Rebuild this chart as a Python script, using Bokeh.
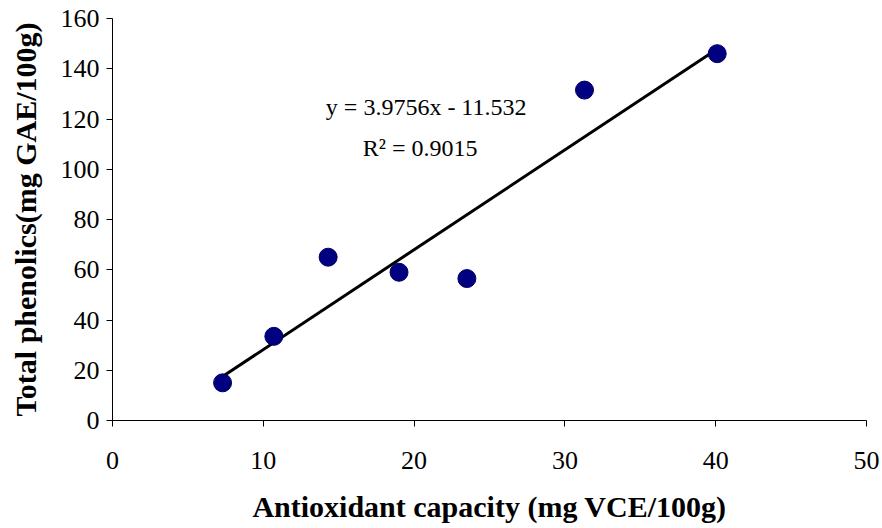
from bokeh.plotting import figure
from bokeh.models import Range1d, Label, FixedTicker
from bokeh.embed import file_html
from bokeh.resources import INLINE
import numpy as np

# data
antioxidant = [7.3, 10.7, 14.3, 19.0, 23.5, 31.3, 40.1]
phenolics = [15.0, 33.5, 65.0, 59.0, 56.5, 131.5, 146.0]
slope = 3.9756
intercept = -11.532
r2 = 0.9015
x_ticks = [0, 10, 20, 30, 40, 50]
y_ticks = [0, 20, 40, 60, 80, 100, 120, 140, 160]

FONT = "Liberation Serif"

p = figure(width=880, height=526, output_backend="svg", toolbar_location=None,
           x_range=Range1d(0, 50), y_range=Range1d(0, 160),
           min_border_left=112, min_border_right=14, min_border_top=18, min_border_bottom=106)
p.outline_line_color = None
p.grid.grid_line_color = None
p.background_fill_color = "white"
p.border_fill_color = "white"

for ax in (p.xaxis, p.yaxis):
    ax.axis_line_color = "black"
    ax.axis_line_width = 1
    ax.major_tick_line_color = "black"
    ax.major_tick_out = 6
    ax.major_tick_in = 0
    ax.minor_tick_line_color = None
    ax.major_label_text_font = FONT
    ax.major_label_text_font_size = "26px"
    ax.major_label_text_color = "black"
    ax.axis_label_text_font = FONT
    ax.axis_label_text_font_style = "bold"
    ax.axis_label_text_font_size = "30px"
    ax.axis_label_text_color = "black"

p.xaxis.ticker = FixedTicker(ticks=x_ticks)
p.yaxis.ticker = FixedTicker(ticks=y_ticks)
p.xaxis.major_label_standoff = 25
p.yaxis.major_label_standoff = 7
p.xaxis.axis_label = "Antioxidant capacity (mg VCE/100g)"
p.yaxis.axis_label = "Total phenolics(mg GAE/100g)"
p.xaxis.axis_label_standoff = 18
p.yaxis.axis_label_standoff = 16

# trendline
xs = np.array([min(antioxidant), max(antioxidant)])
p.line(xs, slope * xs + intercept, line_color="black", line_width=3)

p.scatter(antioxidant, phenolics, size=18, fill_color="#000080", line_color="#000060", line_width=1)

p.add_layout(Label(x=20.8, y=124.8, text=f"y = {slope}x - {abs(intercept)}",
                   text_font=FONT, text_font_size="24px", text_align="center",
                   text_baseline="middle", text_color="black"))
p.add_layout(Label(x=20.4, y=108.6, text=f"R\u00b2 = {r2}",
                   text_font=FONT, text_font_size="24px", text_align="center",
                   text_baseline="middle", text_color="black"))

open("out.html", "w").write(file_html(p, INLINE))
